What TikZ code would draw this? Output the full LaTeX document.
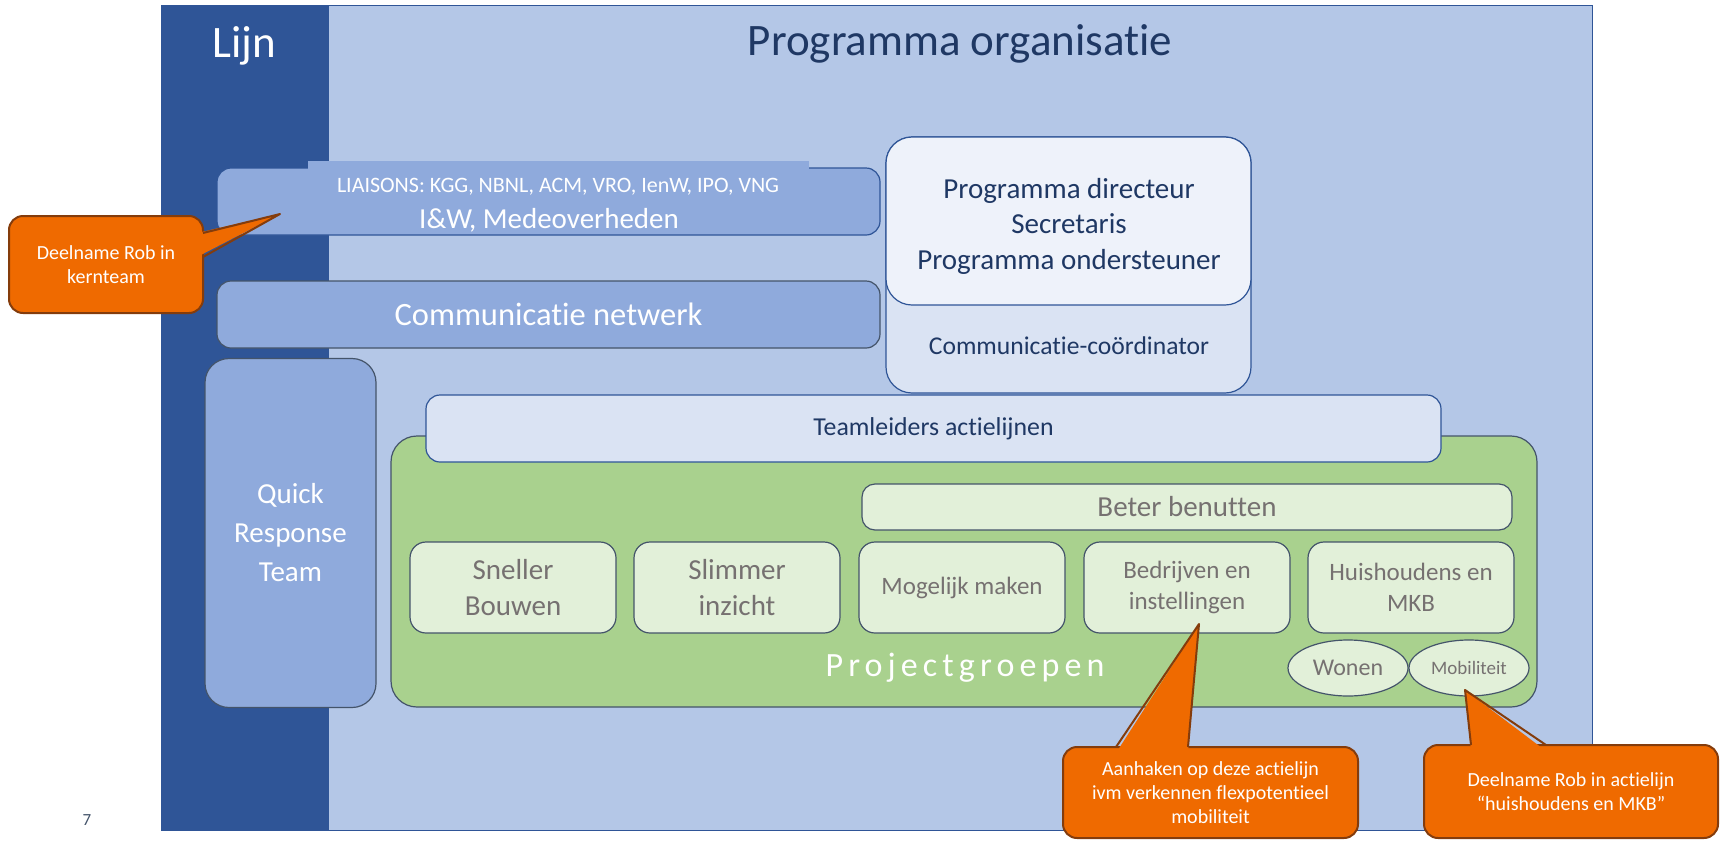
\documentclass[tikz,border=0pt]{standalone}
\usepackage{fontspec}
\setmainfont{Carlito}[Ligatures=CommonOff]
\newfontfamily\spacedfont[LetterSpace=15,Ligatures=CommonOff]{Carlito}
\usetikzlibrary{shapes.geometric}

\definecolor{lijnblue}{HTML}{2F5597}
\definecolor{progblue}{HTML}{B4C7E7}
\definecolor{midblue}{HTML}{8FAADC}
\definecolor{paleblue}{HTML}{DAE3F3}
\definecolor{iceblue}{HTML}{EEF2FA}
\definecolor{navy}{HTML}{1F3864}
\definecolor{slate}{HTML}{44546A}
\definecolor{groupgreen}{HTML}{A9D18E}
\definecolor{palegreen}{HTML}{E2F0D9}
\definecolor{greytext}{HTML}{767171}
\definecolor{noteorange}{HTML}{EF6A00}
\definecolor{notebrown}{HTML}{843C0C}

\begin{document}
\begin{tikzpicture} [
    x=1pt, y=-1pt,
      bluebox/.style  = { rectangle, rounded corners=14pt, fill=midblue, draw=lijnblue,
                        line width=1.2pt, text=white, align=center, inner sep=0pt },
      navybox/.style  = { rectangle, rounded corners=26pt, fill=paleblue, draw=lijnblue,
                        line width=1.2pt, text=navy, align=center, inner sep=0pt },
      groupbox/.style = { rectangle, rounded corners=16pt, fill=palegreen, draw=slate,
                        line width=1.2pt, text=greytext, align=center, inner sep=0pt,
                        minimum width=206pt, minimum height=91pt },
      subbox/.style   = { ellipse, fill=palegreen, draw=slate, line width=1.2pt,
                        text=greytext, inner sep=0pt, minimum width=120pt, minimum height=56pt },
      note/.style     = { rectangle, rounded corners=14pt, fill=noteorange, draw=notebrown,
                        line width=2pt, text=white, align=center, inner sep=0pt,
                        font=\fontsize{20}{24}\selectfont },
      tail/.style     = { draw=notebrown, line width=2pt, line join=round },
      big/.style      = { font=\fontsize{45}{50}\selectfont },
      mid/.style      = { font=\fontsize{29}{35.5}\selectfont },
      small/.style    = { font=\fontsize{25.8}{31}\selectfont },
  ]
\useasboundingbox (0,0) rectangle (1721,841);

% frame: line and programme
\node (prog) [rectangle, fill=progblue, draw=lijnblue, line width=1pt,
      minimum width=1431pt, minimum height=825pt] at (876.5,417.5) {};
\node (lijn) [rectangle, fill=lijnblue, minimum width=168pt, minimum height=825pt] at (245,417.5) {};
\node (lijntitle) [big, text=white] at (244,46) {Lijn};
\node (progtitle) [big, text=navy] at (960,44) {Programma organisatie};
\node (pagenr) [text=slate, font=\fontsize{17}{20}\selectfont] at (87,820) {7};

% left column of the programme
\node (medeo) [bluebox, minimum width=663pt, minimum height=67pt] at (548.5,201.5) {};
\node (liaisons) [rectangle, fill=midblue, text=white, minimum width=501pt, minimum height=52pt,
      font=\fontsize{22}{25}\selectfont] at (558,187) {LIAISONS: KGG, NBNL, ACM, VRO, IenW, IPO, VNG};
\node (medeotext) [text=white, font=\fontsize{29}{33}\selectfont] at (549,220) {I\&W, Medeoverheden};
\node (netwerk) [bluebox, draw=slate, minimum width=663pt, minimum height=67pt,
      font=\fontsize{32.5}{36}\selectfont] at (548.5,314.5) {Communicatie netwerk};
\node (qrt) [bluebox, draw=slate, rounded corners=24pt, minimum width=171pt, minimum height=349pt,
      font=\fontsize{29}{39}\selectfont] at (290.5,533) {Quick\\Response\\Team};

% programme office
\node (coord) [navybox, minimum width=365pt, minimum height=256pt] at (1068.5,265) {};
\node (coordtext) [text=navy, font=\fontsize{25.6}{30}\selectfont] at (1069,346) {Communicatie-coördinator};
\node (directeur) [navybox, fill=iceblue, mid, minimum width=365pt, minimum height=168pt]
      at (1068.5,221) {};
\node (directeurtext) [text=navy, mid, align=center] at (1069,226)
      {Programma directeur\\Secretaris\\Programma ondersteuner};

% project groups
\node (groepen) [rectangle, rounded corners=26pt, fill=groupgreen, draw=slate, line width=1.2pt,
      minimum width=1146pt, minimum height=271pt] at (964,571.5) {};
\node (teamleiders) [navybox, rounded corners=14pt, small, minimum width=1015pt, minimum height=67pt]
      at (933.5,428.5) {Teamleiders actielijnen};
\node (benutten) [groupbox, rounded corners=13pt, mid, minimum width=650pt, minimum height=46pt]
      at (1187,507) {Beter benutten};
\node (sneller) [groupbox, mid] at (513,587.5) {Sneller\\Bouwen};
\node (slimmer) [groupbox, mid] at (737,587.5) {Slimmer\\inzicht};
\node (mogelijk) [groupbox, font=\fontsize{25}{31}\selectfont] at (962,587.5) {Mogelijk maken};
\node (bedrijven) [groupbox, font=\fontsize{25}{31}\selectfont] at (1187,587.5) {Bedrijven en\\instellingen};
\node (huishoudens) [groupbox, font=\fontsize{25}{31}\selectfont] at (1411,587.5) {Huishoudens en\\MKB};
\node (wonen) [subbox, font=\fontsize{24}{28}\selectfont] at (1348,668) {Wonen};
\node (mobiliteit) [subbox, font=\fontsize{19}{22}\selectfont] at (1469,668) {Mobiliteit};
\node (groepentitle) [text=white, font=\spacedfont\fontsize{34}{38}\selectfont] at (965,668) {Projectgroepen};

% remarks
\coordinate (kerntip) at (280,214);
\coordinate (flextip) at (1199,624);
\coordinate (mkbtip) at (1465,690);

\node (kernnote) [note, minimum width=194pt, minimum height=97pt] at (106,264.5)
      {Deelname Rob in\\kernteam};
\fill[noteorange] (197,233) -- (kerntip) -- (197,257) -- cycle;
\draw[tail] (203,233) -- (kerntip) -- (203,257);

\node (flexnote) [note, minimum width=295pt, minimum height=91pt] at (1210.5,792.5)
      {Aanhaken op deze actielijn\\ivm verkennen flexpotentieel\\mobiliteit};
\fill[noteorange] (1116,753) -- (flextip) -- (1188,753) -- cycle;
\draw[tail] (1116,747) -- (flextip) -- (1188,747);

\node (mkbnote) [note, minimum width=294pt, minimum height=93pt] at (1571,791.5)
      {Deelname Rob in actielijn\\“huishoudens en MKB”};
\fill[noteorange] (1471,751) -- (mkbtip) -- (1546,751) -- cycle;
\draw[tail] (1471,745) -- (mkbtip) -- (1546,745);

\end{tikzpicture}
\end{document}
